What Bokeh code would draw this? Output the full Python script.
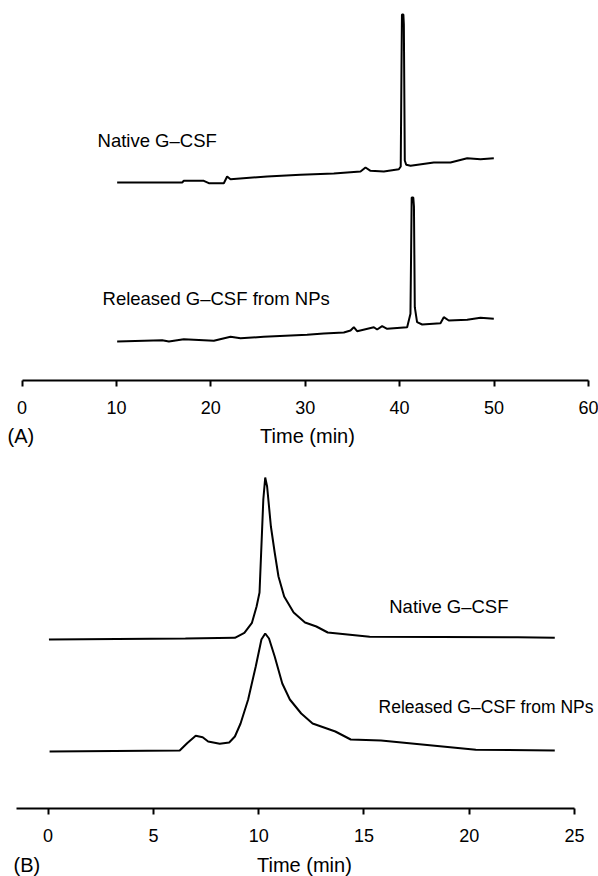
from bokeh.plotting import figure
from bokeh.layouts import column
from bokeh.models import Range1d, FixedTicker, Label
from bokeh.embed import file_html
from bokeh.resources import INLINE

FONT = "Liberation Sans"

# ---------------- Panel A (RP-HPLC) ----------------
a_ticks = [0, 10, 20, 30, 40, 50, 60]
a_native_time = [10.08, 16.97, 17.14, 19.26, 19.79, 21.38, 21.73, 22.09, 25.97, 29.5,
                 33.03, 35.86, 36.39, 36.92, 38.33, 39.92, 40.12, 40.2, 40.25, 40.4,
                 40.45, 40.55, 40.7, 41.16, 43.62, 45.39, 47.16, 48.57, 49.98]
a_native_signal = [0, 0, 1.7, 1.7, -0.7, -0.7, 6, 3.3, 6, 7.7,
                   9, 11, 15, 11.7, 11, 13.3, 16, 115, 168, 168,
                   158, 22, 17.7, 16.7, 20, 20, 24.3, 23.3, 24.3]
a_released_time = [10.08, 14.85, 15.56, 17.14, 20.32, 22.09, 23.15, 25.6, 30.2, 31.97,
                   34.09, 34.8, 35.15, 35.5, 37.27, 37.62, 38.15, 38.68, 40.8, 41.15,
                   41.22, 41.28, 41.45, 41.52, 41.61, 41.85, 42.39, 44.33, 44.68, 45.21,
                   47.16, 48.57, 49.98]
a_released_signal = [0, 1.3, 0, 2.3, 0.7, 4.7, 3.3, 4.7, 6.7, 8,
                     9, 11, 14.3, 10.3, 14.3, 12, 15.3, 12.7, 14.3, 27.7,
                     90, 144, 144, 135, 34.3, 19.3, 17, 18.3, 24.3, 21,
                     21.7, 23.7, 22.7]
a_native_offset = 198
a_released_offset = 39

# ---------------- Panel B (SEC) ----------------
b_ticks = [0, 5, 10, 15, 20, 25]
b_native_time = [0.04, 6.52, 8.87, 9.32, 9.68, 9.9, 10.04, 10.22, 10.31, 10.4,
                 10.58, 10.76, 10.94, 11.21, 11.66, 12.2, 12.74, 13.28, 15.27, 22.3, 24.06]
b_native_signal = [0, 1, 1.7, 6.7, 16.7, 33, 47, 140, 162, 153,
                   113, 87, 63, 43, 27, 17, 13, 7, 2.7, 2.3, 1.7]
b_released_time = [0.07, 6.25, 6.6, 7.01, 7.34, 7.6, 8.15, 8.6, 8.87, 9.14,
                   9.5, 9.86, 10.13, 10.31, 10.49, 10.76, 11.12, 11.48, 12.02, 12.56,
                   13.1, 13.64, 14.37, 15.81, 20.31, 24.06]
b_released_signal = [0, 1, 8.3, 15.7, 14.3, 10, 7.7, 9, 15, 28,
                     52, 85, 112, 118, 113, 95, 68, 52, 38, 28,
                     24, 20, 12, 11, 1.7, 1]
b_native_offset = 169
b_released_offset = 57


def make_fig(xr, yr, fw, fh, ticks, bounds):
    p = figure(output_backend="svg", toolbar_location=None, tools="",
               x_range=Range1d(*xr), y_range=Range1d(*yr),
               frame_width=fw, frame_height=fh, min_border=0,
               y_axis_location=None)
    p.outline_line_color = None
    p.grid.visible = False
    p.background_fill_color = "white"
    p.border_fill_color = "white"
    ax = p.xaxis[0]
    ax.fixed_location = 0
    ax.bounds = bounds
    ax.ticker = FixedTicker(ticks=ticks)
    ax.axis_line_width = 2
    ax.axis_line_color = "black"
    ax.major_tick_line_width = 2
    ax.major_tick_line_color = "black"
    ax.major_tick_out = 6
    ax.major_tick_in = 0
    ax.minor_tick_line_color = None
    ax.major_label_text_font = FONT
    ax.major_label_text_font_size = "18px"
    ax.major_label_text_color = "black"
    ax.major_label_standoff = 14
    return p


def add_label(p, x, y, text, size="18.5px", align="left"):
    p.add_layout(Label(x=x, y=y, text=text, text_font=FONT, text_font_size=size,
                       text_color="black", text_baseline="middle", text_align=align))


# Panel A figure: 1 y-unit = 1 px, axis at y = 0
pa = make_fig((-2.278, 61.07), (-72, 380), 598, 452, a_ticks, (0, 60))
pa.line(a_native_time, [s + a_native_offset for s in a_native_signal],
        line_color="black", line_width=2)
pa.line(a_released_time, [s + a_released_offset for s in a_released_signal],
        line_color="black", line_width=2)
add_label(pa, 8.0, 240, "Native G\u2013CSF")
add_label(pa, 8.53, 82, "Released G\u2013CSF from NPs")
add_label(pa, -1.54, -55, "(A)", size="20px")
add_label(pa, 30.24, -55, "Time (min)", size="20px", align="center")

# Panel B figure
pb = make_fig((-2.26, 26.136), (-68, 356), 598, 424, b_ticks, (-1.5, 25))
pb.line(b_native_time, [s + b_native_offset for s in b_native_signal],
        line_color="black", line_width=2)
pb.line(b_released_time, [s + b_released_offset for s in b_released_signal],
        line_color="black", line_width=2)
add_label(pb, 16.2, 202, "Native G\u2013CSF")
add_label(pb, 15.69, 102, "Released G\u2013CSF from NPs", size="17.5px")
add_label(pb, -1.64, -56, "(B)", size="20px")
add_label(pb, 12.17, -56, "Time (min)", size="20px", align="center")

layout = column(pa, pb, spacing=0)
open("out.html", "w").write(file_html(layout, INLINE))
